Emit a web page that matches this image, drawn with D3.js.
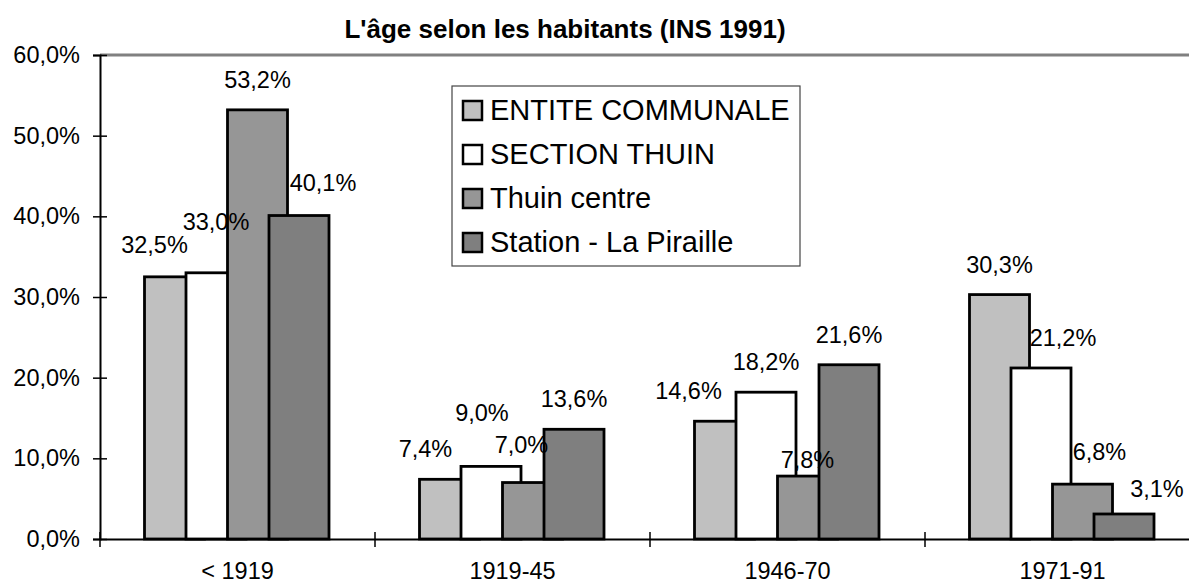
<html>
<script src='https://d3js.org/d3.v7.min.js'></script>
<body style="margin:0; background:#fff">
<svg width=1189 height=584></svg>
<script>
// data
var categories = ["< 1919", "1919-45", "1946-70", "1971-91"];
var series = ["ENTITE COMMUNALE", "SECTION THUIN", "Thuin centre", "Station - La Piraille"];
var entite = [32.5, 7.4, 14.6, 30.3];
var section = [33.0, 9.0, 18.2, 21.2];
var centre = [53.2, 7.0, 7.8, 6.8];
var station = [40.1, 13.6, 21.6, 3.1];
var yTicks = [0, 10, 20, 30, 40, 50, 60];
// hand-moved data labels (dx, dy in px), one row per series
var labelNudgeX = [[-20, -24, -36, 0], [0, -9, 0, 22], [0, -11, 0, 17], [24, 0, 0, 33]];
var labelNudgeY = [[-2, 0, 0, 0], [-21, -23, 0, 0], [0, -8, 14, -2], [-3, 0, 0, 5]];

var values = [entite, section, centre, station];
var colors = ["#c0c0c0", "#ffffff", "#969696", "#7f7f7f"];

var width = 1189, height = 584;
var margin = {top: 55, left: 100, bottom: 45};
var plotRight = 1200;
var font = "'Liberation Sans', Arial, sans-serif";

var loc = d3.formatLocale({decimal: ",", thousands: " ", grouping: [3], currency: ["", " €"]});
var pct = loc.format(".1%");

var svg = d3.select("svg").attr("viewBox", [0, 0, width, height]);

var x0 = d3.scaleBand()
	.domain(categories)
	.range([margin.left, plotRight]);
var x1 = d3.scaleBand()
	.domain(series)
	.range([44.5, 44.5 + 4 * 41.5]);
var barW = 60;
var y = d3.scaleLinear()
	.domain([0, 60])
	.range([height - margin.bottom, margin.top]);

// plot area top border
svg.append("line")
	.attr("x1", margin.left).attr("x2", plotRight)
	.attr("y1", y(60)).attr("y2", y(60))
	.style("stroke", "#808080")
	.style("stroke-width", 3);

// bars, one series after the other so later ones sit on top
series.forEach(function(s, si) {
	var g = svg.append("g");
	g.selectAll("rect")
		.data(values[si])
		.enter()
		.append("rect")
		.attr("x", function(d, i) { return x0(categories[i]) + x1(s); })
		.attr("y", function(d) { return y(d); })
		.attr("width", barW)
		.attr("height", function(d) { return y(0) - y(d); })
		.style("fill", colors[si])
		.style("stroke", "#000")
		.style("stroke-width", 2.8);
});

// data labels
series.forEach(function(s, si) {
	svg.append("g").selectAll("text")
		.data(values[si])
		.enter()
		.append("text")
		.attr("x", function(d, i) { return x0(categories[i]) + x1(s) + barW / 2 + labelNudgeX[si][i]; })
		.attr("y", function(d, i) { return y(d) - 22 + labelNudgeY[si][i]; })
		.attr("text-anchor", "middle")
		.style("font-family", font)
		.style("font-size", "23.5px")
		.text(function(d) { return pct(d / 100); });
});

// y axis
var yAxis = svg.append("g")
	.attr("transform", "translate(" + margin.left + ",0)")
	.call(d3.axisLeft(y).tickValues(yTicks).tickSize(7).tickPadding(13).tickFormat(function(d) { return pct(d / 100); }));
yAxis.select(".domain").style("stroke", "#000").style("stroke-width", 2);
yAxis.selectAll(".tick line").attr("x1", 7).style("stroke-width", 1.5);
yAxis.selectAll(".tick text")
	.style("font-family", font)
	.style("font-size", "23.5px")
	.style("fill", "#000");

// x axis
var xAxis = svg.append("g")
	.attr("transform", "translate(0," + y(0) + ")")
	.call(d3.axisBottom(x0).tickSize(0));
xAxis.select(".domain").style("stroke", "#000").style("stroke-width", 2);
xAxis.selectAll(".tick text")
	.attr("y", 40)
	.attr("dy", null)
	.style("font-family", font)
	.style("font-size", "23.5px")
	.style("fill", "#000");
var bounds = categories.map(function(c) { return x0(c); }).concat([x0.range()[1]]);
xAxis.selectAll(".bound")
	.data(bounds)
	.enter()
	.append("line")
	.attr("class", "bound")
	.attr("x1", function(d) { return d; })
	.attr("x2", function(d) { return d; })
	.attr("y1", -7).attr("y2", 8)
	.style("stroke", "#000")
	.style("stroke-width", 1.5);

// title
svg.append("text")
	.attr("x", 565)
	.attr("y", 38)
	.attr("text-anchor", "middle")
	.style("font-family", font)
	.style("font-weight", "bold")
	.style("font-size", "26px")
	.text("L'âge selon les habitants (INS 1991)");

// legend
var legend = svg.append("g").attr("transform", "translate(452,86)");
legend.append("rect")
	.attr("width", 348).attr("height", 180)
	.style("fill", "#fff")
	.style("stroke", "#444")
	.style("stroke-width", 1.2);
var item = legend.selectAll(".item")
	.data(series)
	.enter()
	.append("g")
	.attr("class", "item")
	.attr("transform", function(d, i) { return "translate(0," + (34 + i * 44) + ")"; });
item.append("rect")
	.attr("x", 11).attr("y", -19)
	.attr("width", 19).attr("height", 19)
	.style("fill", function(d, i) { return colors[i]; })
	.style("stroke", "#000")
	.style("stroke-width", 2.5);
item.append("text")
	.attr("x", 38)
	.attr("y", 0)
	.style("font-family", font)
	.style("font-size", "29px")
	.text(function(d) { return d; });
</script>
</body>
</html>
